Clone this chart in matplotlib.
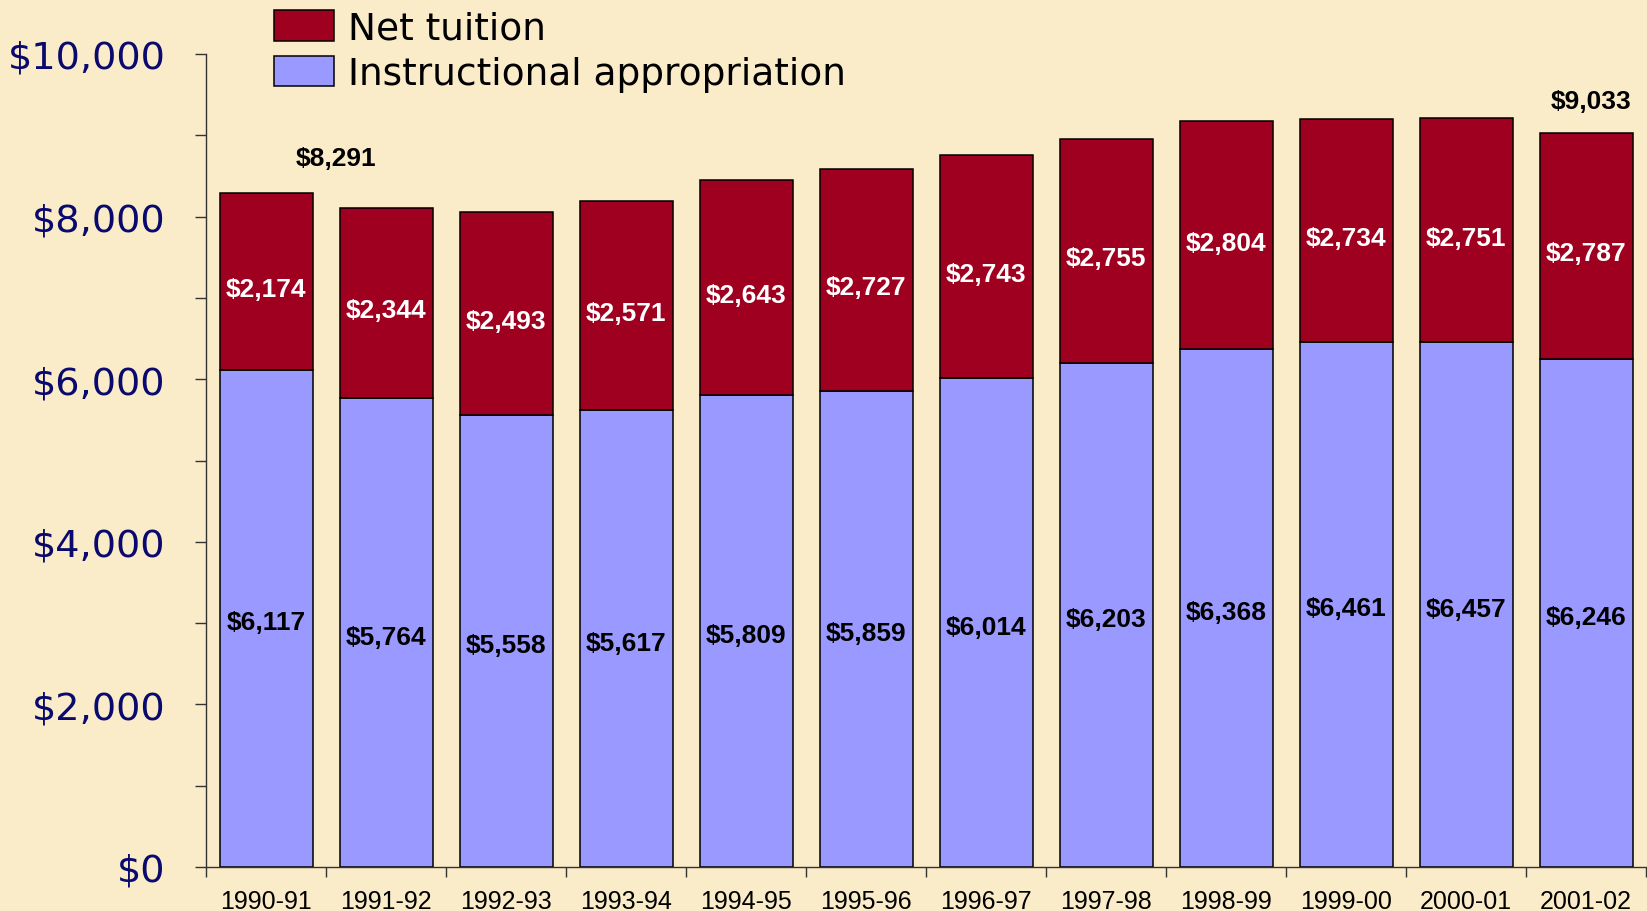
import numpy as np
import matplotlib
matplotlib.use('Agg')
import matplotlib.pyplot as plt
from matplotlib.ticker import MultipleLocator, FixedLocator

# Werte
jahre = ['1990-91', '1991-92', '1992-93', '1993-94', '1994-95', '1995-96',
         '1996-97', '1997-98', '1998-99', '1999-00', '2000-01', '2001-02']
appropriation = np.array([6117, 5764, 5558, 5617, 5809, 5859, 6014, 6203, 6368, 6461, 6457, 6246])
tuition = np.array([2174, 2344, 2493, 2571, 2643, 2727, 2743, 2755, 2804, 2734, 2751, 2787])
y_ticks = [0, 2000, 4000, 6000, 8000, 10000]

bg = '#FAEBC9'
c_tuition = '#A00020'
c_approp = '#9999FF'

fig = plt.figure(figsize=(16.47, 9.12), dpi=100, facecolor=bg)
ax = fig.add_axes([206/1647, 1-868/912, 1440/1647, (868-55)/912])
ax.set_facecolor(bg)

x = np.arange(len(jahre))
b1 = ax.bar(x, appropriation, width=0.775, color=c_approp, edgecolor='black', linewidth=1.1,
            label='Instructional appropriation')
b2 = ax.bar(x, tuition, width=0.775, bottom=appropriation, color=c_tuition, edgecolor='black',
            linewidth=1.1, label='Net tuition')

# Beschriftungen in den Balken
for xi, a, t in zip(x, appropriation, tuition):
    ax.text(xi, a/2 - 50, f'${a:,}', ha='center', va='center', fontsize=19,
            fontweight='bold', family='Liberation Sans', color='black')
    ax.text(xi, a + t/2 - 90, f'${t:,}', ha='center', va='center', fontsize=19,
            fontweight='bold', family='Liberation Sans', color='white')

# Summen am ersten und letzten Balken
total = appropriation + tuition
ax.text(x[0] + 0.58, total[0] + 430, f'${total[0]:,}', ha='center', va='center', fontsize=19,
        fontweight='bold', family='Liberation Sans')
ax.text(x[-1] + 0.04, total[-1] + 390, f'${total[-1]:,}', ha='center', va='center', fontsize=19,
        fontweight='bold', family='Liberation Sans')

ax.set_xlim(-0.5, len(jahre) - 0.5)
ax.set_ylim(0, 10000)

ax.set_yticks(y_ticks)
ax.set_yticklabels([f'${v:,}' for v in y_ticks], fontsize=27.5, color='#0A0A6E', family='DejaVu Sans')
ax.yaxis.set_minor_locator(MultipleLocator(1000))
ax.tick_params(axis='y', which='both', direction='out', length=8, width=1, color='#333333', pad=21)

ax.set_xticks(x)
ax.set_xticklabels(jahre, fontsize=18, family='Liberation Sans')
ax.xaxis.set_minor_locator(FixedLocator(np.arange(-0.5, len(jahre), 1.0)))
ax.tick_params(axis='x', which='major', length=0, pad=16)
ax.tick_params(axis='x', which='minor', direction='out', length=7, width=1, color='#333333')

for s in ['top', 'right']:
    ax.spines[s].set_visible(False)
for s in ['left', 'bottom']:
    ax.spines[s].set_color('#333333')
    ax.spines[s].set_linewidth(1)

ax.legend(handles=[b2, b1], loc='upper left', bbox_to_anchor=(274/1647, 1 - 11/912),
          bbox_transform=fig.transFigure, frameon=False, borderpad=0,
          borderaxespad=0, handlelength=1.6, handleheight=0.88, handletextpad=0.38,
          labelspacing=0.25, prop={'family': 'DejaVu Sans', 'size': 27})

fig.savefig('out.png', dpi=100, facecolor=bg)
